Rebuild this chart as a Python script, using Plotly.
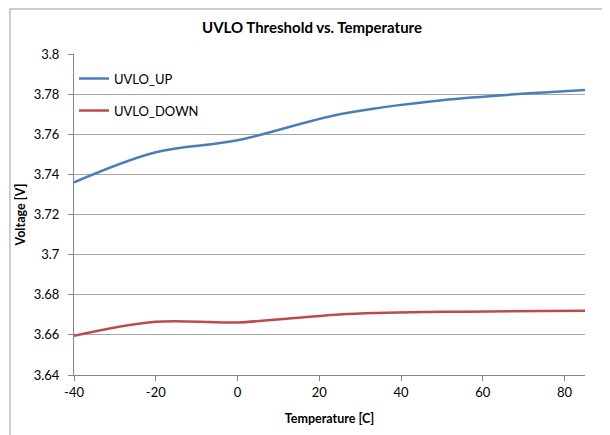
import plotly.graph_objects as go

temps = [-40, -20, 0, 25, 50, 85]
uvlo_up = [3.736, 3.751, 3.757, 3.770, 3.777, 3.782]
uvlo_down = [3.6595, 3.6665, 3.6662, 3.6702, 3.6715, 3.672]

x_ticks = [-40, -20, 0, 20, 40, 60, 80]
x_tick_text = ["-40", "-20", "0", "20", "40", "60", "80"]
y_ticks = [3.64, 3.66, 3.68, 3.70, 3.72, 3.74, 3.76, 3.78, 3.80]
y_tick_text = ["3.64", "3.66", "3.68", "3.7", "3.72", "3.74", "3.76", "3.78", "3.8"]

FONT = "Lato, 'Open Sans', sans-serif"

fig = go.Figure()
fig.add_trace(go.Scatter(x=temps, y=uvlo_up, mode="lines", name="UVLO_UP",
                         line=dict(color="#4a7ebb", width=2.5, shape="spline", smoothing=1.0),
                         legendgroup="a"))
fig.add_trace(go.Scatter(x=temps, y=uvlo_down, mode="lines", name="UVLO_DOWN",
                         line=dict(color="#be4b48", width=2.5, shape="spline", smoothing=1.0),
                         legendgroup="b"))

# page body has an 8px margin, so the figure is drawn 8px in from the window corner
W, H = 602, 427
L, R, T, B = 65, 25, 46, 58
pw, ph = W - L - R, H - T - B

def px(xp):
    return (xp - L) / pw

def py(yp):
    return (H - B - yp) / ph

fig.add_shape(type="rect", xref="paper", yref="paper",
              x0=px(0.8), x1=px(W + 20), y0=py(H + 20), y1=py(0.8),
              line=dict(color="#bfbfbf", width=1.5), fillcolor="rgba(0,0,0,0)", layer="below")

fig.update_layout(
    width=W, height=H,
    margin=dict(l=L, r=R, t=T, b=B),
    paper_bgcolor="white", plot_bgcolor="white",
    font=dict(family=FONT, size=13, color="#000000"),
    title=dict(text="<b>UVLO Threshold vs. Temperature</b>", x=304 / W, xref="container",
               y=1 - 20 / H, yanchor="middle", xanchor="center",
               font=dict(size=15, family=FONT, color="#000000")),
    showlegend=True,
    legend=dict(x=0.0, y=0.97, xanchor="left", yanchor="top", bgcolor="rgba(0,0,0,0)",
                font=dict(size=13, family=FONT), itemwidth=30, tracegroupgap=12),
    xaxis=dict(range=[-40, 85], tickvals=x_ticks, ticktext=x_tick_text,
               showgrid=False, zeroline=False,
               showline=True, linecolor="#868686", linewidth=1,
               ticks="outside", ticklen=5, tickcolor="#868686",
               title=dict(text="<b>Temperature [C]</b>", font=dict(size=12.5), standoff=15),
               tickfont=dict(size=13)),
    yaxis=dict(range=[3.64, 3.80], tickvals=y_ticks, ticktext=y_tick_text,
               showgrid=True, gridcolor="#a6a6a6", gridwidth=1, zeroline=False,
               showline=True, linecolor="#868686", linewidth=1,
               ticks="outside", ticklen=5, tickcolor="#868686",
               ticklabelstandoff=6,
               title=dict(text="<b>Voltage [V]</b>", font=dict(size=12.5), standoff=5),
               tickfont=dict(size=13)),
)

fig.write_html("out.html")
